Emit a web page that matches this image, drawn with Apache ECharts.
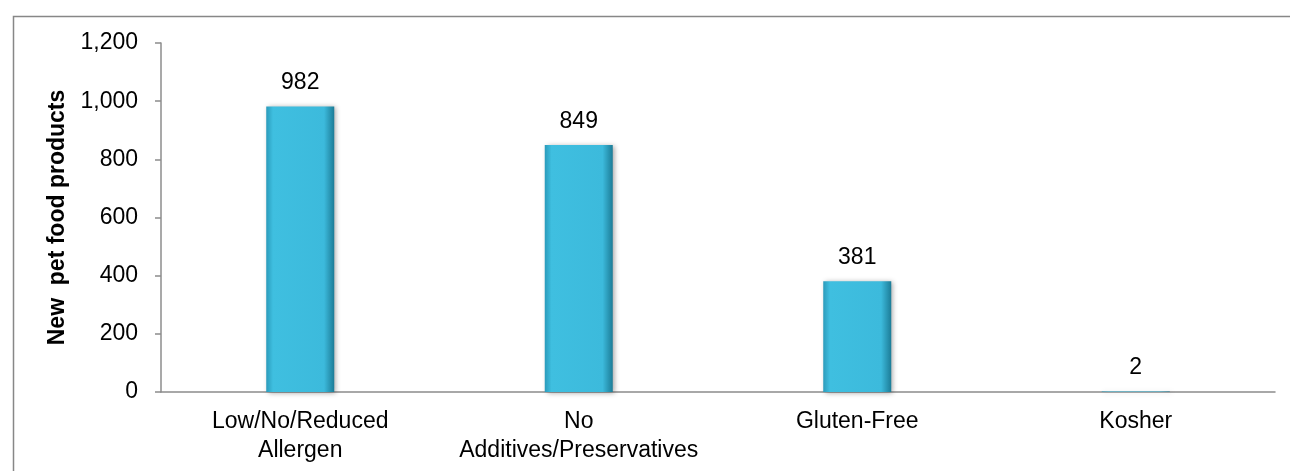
<!DOCTYPE html>
<html><head><meta charset="utf-8">
<script src="https://cdn.jsdelivr.net/npm/echarts@6/dist/echarts.min.js"></script>
<style>html,body{margin:0;padding:0;background:#fff}#c{width:1290px;height:471px}</style>
</head><body><div id="c"></div>
<script>
const categories = ['Low/No/Reduced\nAllergen', 'No\nAdditives/Preservatives', 'Gluten-Free', 'Kosher'];
const values = [982, 849, 381, 2];
const yTicks = [0, 200, 400, 600, 800, 1000, 1200];

const chart = echarts.init(document.getElementById('c'), null, {renderer: 'canvas'});
const font = 'Liberation Sans, Arial, sans-serif';
chart.setOption({
  animation: false,
  backgroundColor: '#fff',
  graphic: [{
    type: 'rect', left: 11, top: 14,
    shape: {width: 1400, height: 600},
    style: {fill: 'none', stroke: '#878787', lineWidth: 1.5},
    silent: true
  }],
  grid: {left: 161, right: 15, top: 43, bottom: 79},
  xAxis: {
    type: 'category', data: categories,
    axisLine: {lineStyle: {color: '#8c8c8c', width: 1.5}},
    axisTick: {show: false},
    axisLabel: {color: '#000', fontFamily: font, fontSize: 23, lineHeight: 29, margin: 15, interval: 0}
  },
  yAxis: {
    type: 'value', min: yTicks[0], max: yTicks[yTicks.length - 1], interval: 200,
    name: 'New  pet food products', nameLocation: 'middle', nameGap: 92,
    nameTextStyle: {color: '#000', fontFamily: font, fontSize: 23, fontWeight: 'bold'},
    splitLine: {show: false},
    axisLine: {show: true, lineStyle: {color: '#8c8c8c', width: 1.5}},
    axisTick: {show: true, length: 6, lineStyle: {color: '#8c8c8c', width: 1.5}},
    axisLabel: {color: '#000', fontFamily: font, fontSize: 23, margin: 23,
      formatter: v => v.toLocaleString('en-US')}
  },
  series: [{
    type: 'bar', data: values, barWidth: 68,
    itemStyle: {
      color: {type: 'linear', x: 0, y: 0, x2: 1, y2: 0, colorStops: [
        {offset: 0, color: '#2a9bbb'},
        {offset: 0.1, color: '#3fbfe0'},
        {offset: 0.85, color: '#3cbadc'},
        {offset: 1, color: '#1c7c97'}
      ]},
      shadowColor: 'rgba(0,0,0,0.35)', shadowBlur: 5, shadowOffsetX: 2, shadowOffsetY: 1
    },
    label: {show: true, position: 'top', distance: 12, color: '#000', fontFamily: font, fontSize: 23}
  }]
});
</script></body></html>
